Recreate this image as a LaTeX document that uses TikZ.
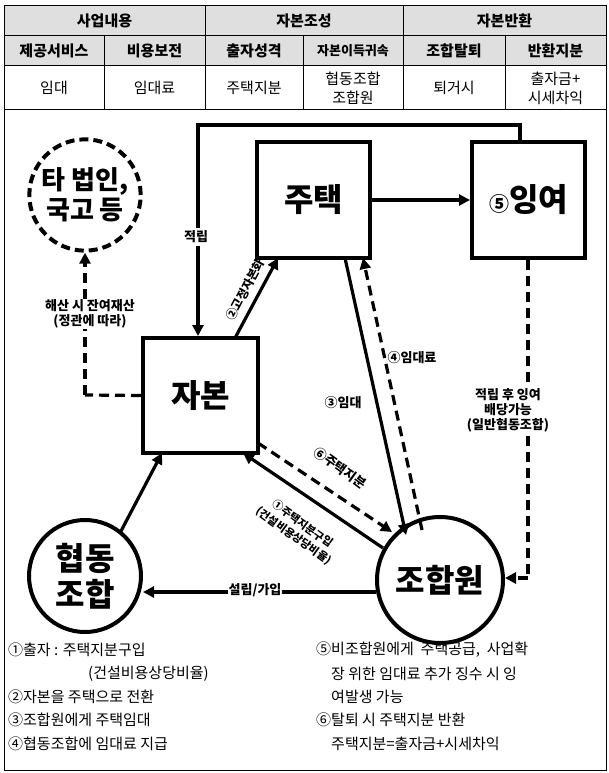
\documentclass[tikz,border=0pt]{standalone}
\usepackage{fontspec}
\setmainfont{Noto Sans CJK KR}
\usetikzlibrary{arrows.meta}
\begin{document}
\begin{tikzpicture}[x=1pt,y=-1pt,
  thk/.style={line width=4pt},
  arr/.style={line width=3.2pt,-{Triangle[length=11pt,width=11pt]}},
  dsh/.style={line width=3.2pt,dash pattern=on 10pt off 6pt},
  hd/.style={font=\fontsize{15}{17}\selectfont\bfseries},
  cell/.style={font=\fontsize{15}{17}\selectfont,align=center},
  big/.style={font=\fontsize{32}{36}\selectfont\bfseries,align=center},
  lab/.style={font=\fontsize{13}{15}\selectfont\bfseries,align=center,inner sep=1pt},
  note/.style={font=\fontsize{15}{18}\selectfont,anchor=west,inner sep=0pt}]
\useasboundingbox (0,0) rectangle (608,773);
\fill[gray!25] (4,6) rectangle (606,66);
\draw[line width=1pt] (4,6) rectangle (606,770);
\draw[line width=1pt] (4,36)--(606,36) (4,66)--(606,66) (4,110)--(606,110);
\draw[line width=1pt] (205,6)--(205,110) (403,6)--(403,110);
\foreach \x in {104,303,505} \draw[line width=1pt] (\x,36)--(\x,110);
\node[hd] (h1) at (104.5,21) {사업내용};
\node[hd] (h2) at (304,21) {자본조성};
\node[hd] (h3) at (504.5,21) {자본반환};
\node[hd] (s1) at (54,51) {제공서비스};
\node[hd] (s2) at (154.5,51) {비용보전};
\node[hd] (s3) at (254,51) {출자성격};
\node[hd,font=\fontsize{13}{15}\selectfont\bfseries] (s4) at (353,51) {자본이득귀속};
\node[hd] (s5) at (454,51) {조합탈퇴};
\node[hd] (s6) at (555.5,51) {반환지분};
\node[cell] (c1) at (54,88) {임대};
\node[cell] (c2) at (154.5,88) {임대료};
\node[cell] (c3) at (254,88) {주택지분};
\node[cell,font=\fontsize{15}{19}\selectfont] (c4) at (353,88) {협동조합\\조합원};
\node[cell] (c5) at (454,88) {퇴거시};
\node[cell,font=\fontsize{15}{19}\selectfont] (c6) at (555.5,88) {출자금+\\시세차익};
% nodes
\node[draw,thk,dash pattern=on 9pt off 5pt,circle,minimum size=110pt,big,font=\fontsize{26}{30}\selectfont\bfseries] (ta) at (85,195) {타 법인,\\국고 등};
\node[draw,thk,minimum width=113pt,minimum height=116pt,big] (ju) at (313.5,200) {주택};
\node[draw,thk,minimum width=113pt,minimum height=116pt,big] (ing) at (528.5,200) {\fontsize{20}{20}\selectfont⑤\fontsize{32}{36}\selectfont 잉여};
\node[draw,thk,minimum width=115pt,minimum height=115pt,big] (ja) at (200.5,395.5) {자본};
\node[draw,thk,circle,minimum size=112pt,big] (hy) at (85,576) {협동\\조합};
\node[draw,thk,circle,minimum size=126pt,big] (jo) at (440,580) {조합원};
% connectors
\coordinate (t1) at (520,125); \coordinate (t2) at (198,125);
\draw[arr] (ing.north -| t1) |- (t2) -- (ja.north -| t2);
\node[lab,fill=white,inner ysep=3pt] (l1) at (196,237) {적립};
\draw[arr] (ju.east) -- (ing.west);
\coordinate (d1) at (528,578);
\draw[dsh] (ing.south -| d1) -- (d1);
\draw[arr,dash pattern=on 10pt off 6pt] (d1) -- (jo.east |- d1);
\node[lab,fill=white] (l2) at (508,410) {적립 후 잉여\\배당가능\\(일반협동조합)};
\coordinate (e1) at (85,395);
\draw[dsh] (ja.west) -- (e1);
\draw[arr,dash pattern=on 10pt off 6pt] (e1) -- (ta.south);
\node[lab,fill=white] (l3) at (90,314) {해산 시 잔여재산\\(정관에 따라)};
\coordinate (a1) at (235,338); \coordinate (a2) at (278,258);
\draw[arr] (a1) -- (a2);
\node[lab,rotate=62,font=\fontsize{12}{14}\selectfont\bfseries] (l9) at (245,290) {②고정자본화};
\coordinate (b1) at (345,258); \coordinate (b2) at (406,535);
\draw[arr] (b1) -- (b2);
\node[lab] (l4) at (343,403) {③임대};
\coordinate (b3) at (422,530); \coordinate (b4) at (363,258);
\draw[arr,dash pattern=on 10pt off 6pt] (b3) -- (b4);
\node[lab] (l5) at (412,358) {④임대료};
\coordinate (f1) at (383,548); \coordinate (f2) at (243,453);
\draw[arr] (f1) -- (f2);
\node[lab,rotate=-36,font=\fontsize{11}{15}\selectfont\bfseries] (l6) at (298,530) {①주택지분구입\\(건설비용상당비율)};
\coordinate (g1) at (258,443); \coordinate (g2) at (392,532);
\draw[arr,dash pattern=on 10pt off 6pt] (g1) -- (g2);
\node[lab,rotate=-36] (l7) at (340,468) {⑥주택지분};
\coordinate (h1a) at (120,533); \coordinate (h2a) at (162,453);
\draw[arr] (h1a) -- (h2a);
\coordinate (k1) at (376,592);
\draw[arr] (k1) -- (hy.east |- k1);
\node[lab,fill=white] (l8) at (255,590) {설립/가입};
% notes
\node[note] (n1) at (8,650) {①출자 : 주택지분구입};
\node[note] (n2) at (88,674) {(건설비용상당비율)};
\node[note] (n3) at (8,697) {②자본을 주택으로 전환};
\node[note] (n4) at (8,720) {③조합원에게 주택임대};
\node[note] (n5) at (8,744) {④협동조합에 임대료 지급};
\node[note] (m1) at (316,650) {⑤비조합원에게\ \ 주택공급,\ \ 사업확};
\node[note] (m2) at (331,674) {장 위한 임대료 추가 징수 시 잉};
\node[note] (m3) at (331,697) {여발생 가능};
\node[note] (m4) at (316,720) {⑥탈퇴 시 주택지분 반환};
\node[note] (m5) at (331,744) {주택지분=출자금+시세차익};
\end{tikzpicture}
\end{document}
